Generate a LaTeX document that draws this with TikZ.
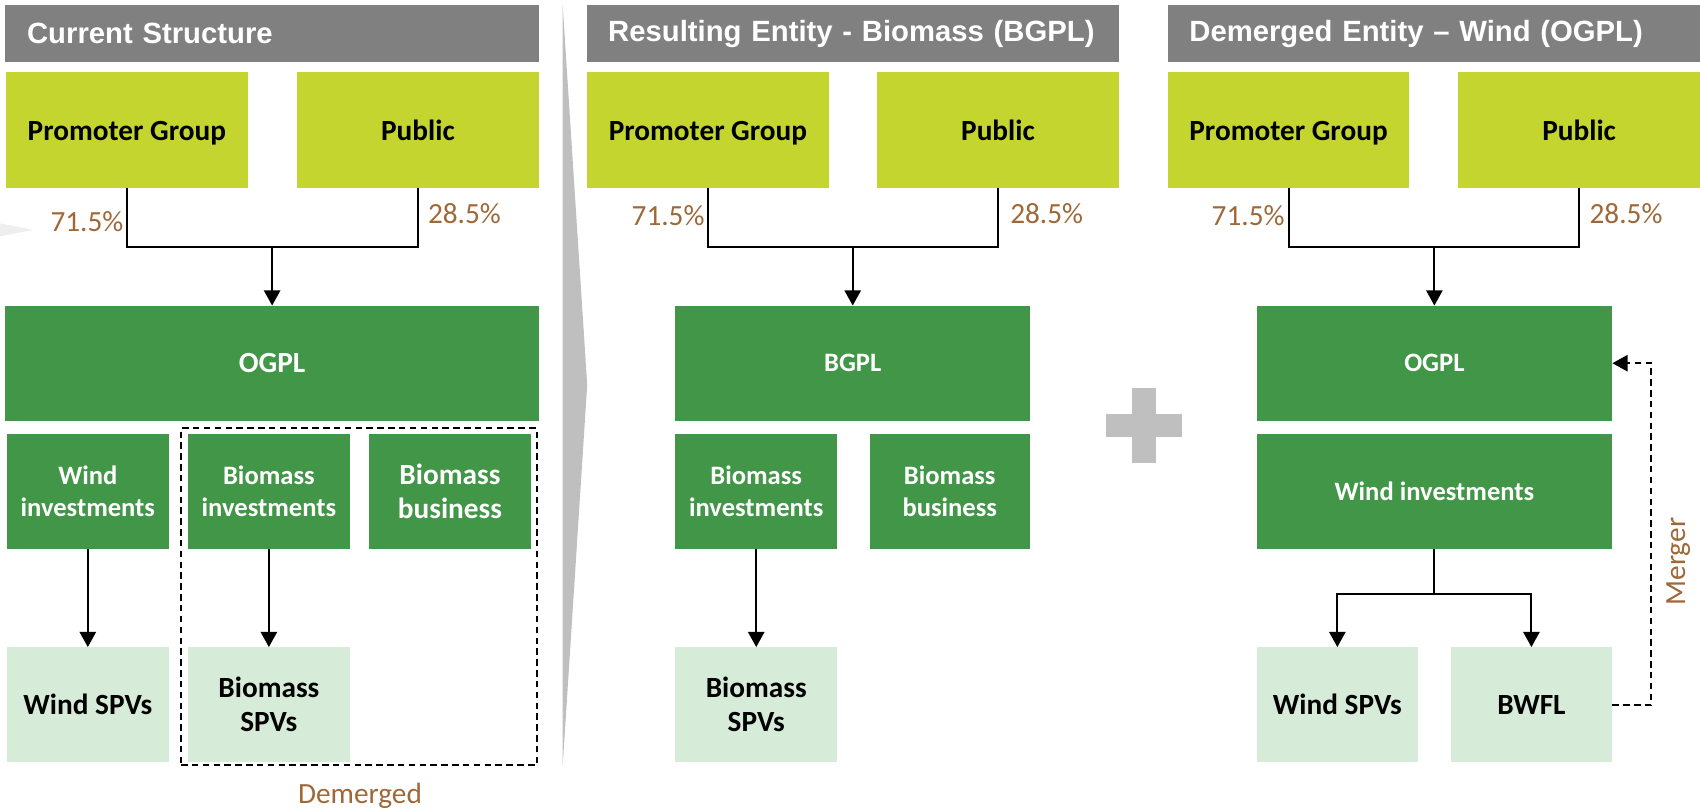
\documentclass[tikz,border=0pt]{standalone}
\usepackage{fontspec}
\setmainfont{Carlito}
\newfontfamily\hdrfont{Liberation Sans}
\usetikzlibrary{arrows.meta}
\definecolor{hdrgray}{RGB}{128,128,128}
\definecolor{limefill}{RGB}{196,213,47}
\definecolor{dkgreen}{RGB}{66,150,71}
\definecolor{ltgreen}{RGB}{215,236,216}
\definecolor{brownlbl}{RGB}{158,104,56}
\definecolor{sepgray}{RGB}{191,191,191}
\definecolor{faintgray}{RGB}{238,238,238}
\begin{document}
\begin{tikzpicture}[x=1pt,y=-1pt,
  base/.style={inner sep=0pt, align=center, minimum height=106pt},
  hdr/.style={fill=hdrgray, text=white, minimum height=52pt, inner sep=0pt, inner xsep=20pt, align=left, font=\hdrfont\bfseries\fontsize{27}{32}\selectfont},
  owner/.style={base, fill=limefill, minimum width=223pt, minimum height=107pt, text height=20pt, text depth=0pt, font=\bfseries\fontsize{27}{31.5}\selectfont},
  ent/.style={base, fill=dkgreen, text=white},
  bigtxt/.style={font=\bfseries\fontsize{27}{31.5}\selectfont},
  smalltxt/.style={font=\bfseries\fontsize{24.5}{29.5}\selectfont},
  spv/.style={base, fill=ltgreen, minimum width=149pt, font=\bfseries\fontsize{27}{31.5}\selectfont},
  pct/.style={text=brownlbl, inner sep=0pt, font=\fontsize{27}{32}\selectfont},
  conn/.style={line width=1.8pt},
  arr/.style={conn, -{Triangle[width=15pt,length=14pt]}},
  dashline/.style={line width=1.8pt, dash pattern=on 6pt off 4pt},
  mrg/.style={dashline, -{Triangle[width=15pt,length=14pt]}},
  dbox/.style={draw, dashline, inner sep=0pt}
]
\useasboundingbox (0,0) rectangle (1568,748);

% background shapes
\fill[faintgray] (0,206) -- (31,212) -- (0,218) -- cycle;
\fill[sepgray] (519,5) -- (541.6,355) -- (519,706) -- cycle;
\fill[sepgray] (1020,382) rectangle (1090,403);
\fill[sepgray] (1044,358) rectangle (1066,427);

% ---------- Panel 1 ----------
\node[hdr, text width=452pt] (hd1) at (251,31) {\mbox{Current Structure}};
\node[owner] (pg1) at (117,119.5) {Promoter Group};
\node[owner] (pu1) at (385.5,119.5) {Public};
\node[ent, bigtxt, minimum width=492pt] (og1) at (251,335) {OGPL};
\node[ent, smalltxt, minimum width=150pt] (wi1) at (81,453) {Wind\\investments};
\node[ent, smalltxt, minimum width=150pt] (bi1) at (248,453) {Biomass\\investments};
\node[ent, bigtxt, minimum width=150pt] (bb1) at (415,453) {Biomass\\business};
\node[spv, minimum width=150pt] (ws1) at (81,650) {Wind SPVs};
\node[spv, minimum width=150pt] (bs1) at (248,650) {Biomass\\SPVs};
\node[dbox, minimum width=328pt, minimum height=311pt] (dm) at (331,550.5) {};
\node[pct] (dml) at (332,734) {Demerged};
\coordinate (j1) at (251,228);
\draw[conn] (pg1.south) |- (j1) -| (pu1.south);
\draw[arr] (j1) -- (og1.north);
\draw[arr] (wi1) -- (ws1);
\draw[arr] (bi1) -- (bs1);
\node[pct, anchor=east] (p1a) at (114,204.5) {71.5\%};
\node[pct, anchor=west] (p1b) at (394.6,196.7) {28.5\%};

% ---------- Panel 2 ----------
\node[hdr, text width=451pt] (hd2) at (786.5,31) {\mbox{Resulting Entity - Biomass (BGPL)}};
\node[owner] (pg2) at (653,119.5) {Promoter Group};
\node[owner] (pu2) at (920.5,119.5) {Public};
\node[ent, smalltxt, minimum width=327pt] (bg2) at (786.5,335) {BGPL};
\node[ent, smalltxt, minimum width=149pt] (bi2) at (697.5,453) {Biomass\\investments};
\node[ent, smalltxt, minimum width=148pt] (bb2) at (876,453) {Biomass\\business};
\node[spv] (bs2) at (697.5,650) {Biomass\\SPVs};
\coordinate (j2) at (786.5,228);
\draw[conn] (pg2.south) |- (j2) -| (pu2.south);
\draw[arr] (j2) -- (bg2.north);
\draw[arr] (bi2) -- (bs2);
\node[pct, anchor=east] (p2a) at (650,199) {71.5\%};
\node[pct, anchor=west] (p2b) at (931.6,196.7) {28.5\%};

% ---------- Panel 3 ----------
\node[hdr, text width=451pt] (hd3) at (1322.5,31) {\mbox{Demerged Entity – Wind (OGPL)}};
\node[owner] (pg3) at (1188.5,119.5) {Promoter Group};
\node[owner] (pu3) at (1456.5,119.5) {Public};
\node[ent, smalltxt, minimum width=328pt] (og3) at (1323,335) {OGPL};
\node[ent, smalltxt, minimum width=328pt] (wi3) at (1323,453) {Wind investments};
\node[spv] (ws3) at (1233.5,650) {Wind SPVs};
\node[spv] (bw3) at (1412.5,650) {BWFL};
\coordinate (j3) at (1323,228);
\coordinate (j4) at (1323,548);
\coordinate (mx) at (1523,0);
\draw[conn] (pg3.south) |- (j3) -| (pu3.south);
\draw[arr] (j3) -- (og3.north);
\draw[conn] (wi3.south) -- (j4);
\draw[arr] (j4) -| (ws3.north);
\draw[arr] (j4) -| (bw3.north);
\draw[mrg] (bw3.east) -- (bw3.east -| mx) |- (og3.east);
\node[pct, rotate=90] (mg) at (1548,518) {Merger};
\node[pct, anchor=east] (p3a) at (1185,199) {71.5\%};
\node[pct, anchor=west] (p3b) at (1466,197) {28.5\%};
\end{tikzpicture}
\end{document}
